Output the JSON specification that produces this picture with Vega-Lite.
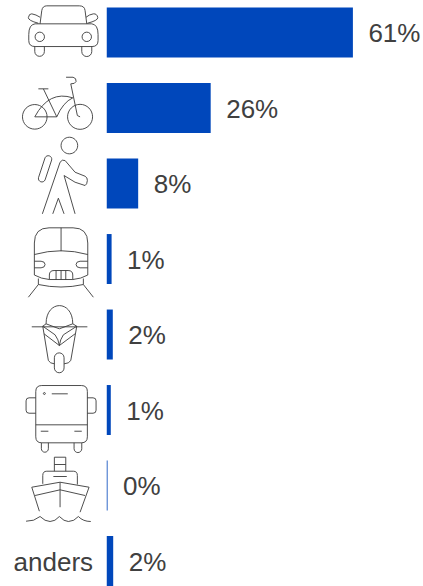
{"$schema":"https://vega.github.io/schema/vega-lite/v6.json","width":423,"height":586,"padding":0,"autosize":"none","background":"white","view":{"stroke":null},
"data":{"values":[
{"mode":"auto","value":61.1,"label":"61%"},
{"mode":"fiets","value":25.8,"label":"26%"},
{"mode":"te voet","value":7.8,"label":"8%"},
{"mode":"trein","value":1.2,"label":"1%"},
{"mode":"brommer","value":1.5,"label":"2%"},
{"mode":"bus","value":1.0,"label":"1%"},
{"mode":"boot","value":0.2,"label":"0%"},
{"mode":"anders","value":1.6,"label":"2%"}]},
"encoding":{"y":{"field":"mode","type":"nominal","sort":null,"axis":null,"scale":{"domain":["auto","fiets","te voet","trein","brommer","bus","boot","anders"],"paddingInner":0.338,"paddingOuter":0.05,"align":1}}},
"layer":[
{"mark":{"type":"bar","color":"#0047BB"},"encoding":{"x":{"field":"value","type":"quantitative","axis":null,"scale":{"domain":[-26.5,78.5],"nice":false,"zero":false}}}},
{"mark":{"type":"text","align":"left","baseline":"middle","dx":15.5,"dy":1.5,"font":"Liberation Sans","fontSize":26,"color":"#404040"},"encoding":{"x":{"field":"value","type":"quantitative"},"text":{"field":"label"}}},
{"transform":[{"filter":"datum.mode==='anders'"}],"mark":{"type":"text","align":"right","baseline":"middle","dy":1.5,"font":"Liberation Sans","fontSize":26,"color":"#404040"},"encoding":{"x":{"datum":-3.4},"text":{"field":"mode"}}},
{"transform":[{"filter":"datum.mode!=='anders'"}],"mark":{"type":"point","filled":false,"size":4,"stroke":"#3a3a3a","strokeWidth":0.9,"opacity":1},"encoding":{"x":{"datum":-11.34},"shape":{"field":"mode","type":"nominal","legend":null,"scale":{"domain":["auto","fiets","te voet","trein","brommer","bus","boot"],"range":[
"M-21 -8.7L-19.3 -22Q-18.5 -26.7 -14.3 -26.7L18.3 -26.7Q23.5 -26.7 24 -22L25.7 -8.7M-26 -8.7L30.7 -8.7Q37 -8 37 2L37 8Q37 14 31 14L-26 14Q-32.3 14 -32.3 8L-32.3 2Q-32.3 -8 -26 -8.7ZM-26 4.3a4.7 4.7 0 1 0 9.4 0a4.7 4.7 0 1 0 -9.4 0ZM21 4.3a4.7 4.7 0 1 0 9.4 0a4.7 4.7 0 1 0 -9.4 0ZM-26.3 14L-26.3 19a4.8 4.8 0 0 0 9.6 0L-16.7 14M20.7 14L20.7 19a5 5 0 0 0 10 0L30.7 14M-22.7 -9.3Q-33 -12 -32.7 -15Q-32 -19 -29.3 -18.7Q-25 -18 -21 -15.3M26.3 -9.3Q37 -12 36.7 -15Q36 -19 32.3 -18.7Q28 -18 25 -15.3",
"M-38.6 8.8a12.3 12.3 0 1 0 24.6 0a12.3 12.3 0 1 0 -24.6 0ZM6.5 8.8a12.5 12.5 0 1 0 25 0a12.5 12.5 0 1 0 -25 0ZM-26.3 8.8L-4.3 8.8Q2 -5.8 11.7 -10.2Q-12 -18 -26.3 8.8M-17.7 -19.2L-4.3 8.8M-22.7 -19.2L-12.7 -19.2M9.7 -24.2L16.3 7.5L19 8.8M5 -30.8L12 -30.8Q15.5 -30 15 -26.5Q14 -24 9.7 -24.2",
"M0 -38a8.3 8.3 0 1 0 16.6 0a8.3 8.3 0 1 0 -16.6 0ZM-9.4 -23.6L-16 -3.6A3.5 3.5 0 0 1 -22.6 -5.8L-16 -25.8A3.5 3.5 0 0 1 -9.4 -23.6ZM-18.7 30.3L-1 -21.3Q1 -24.5 4 -23L14 -11.3L24 -7.3Q26.5 -6 26.3 -3Q26 1 24 2L14 -1.3L3 -8L14 30.3M-8.3 30.3L-2.7 14.7L3 30.3",
"M-26.7 16L-26.7 -16Q-26.7 -31.2 -12 -31.2L12 -31.2Q26.7 -31.2 26.7 -16L26.7 16M0 -31.2L0 -7.8M-26.7 -4.5Q0 -12 26.7 -4.5M-26.7 2.2L-20 2.2Q-16 2.5 -16 5.5Q-16 8.5 -20 8.8L-26.7 8.8M26.7 2.2L19 2.2Q15 2.5 15 5.5Q15 8.5 19 8.8L26.7 8.8M-26.7 16Q-20 19.8 -11.7 20.5L11.7 20.5Q20 19.8 26.7 16M-11.7 20.5L-11.7 16Q-11.7 11.5 -7 11.5L7 11.5Q11.7 11.5 11.7 16L11.7 20.5M-5 11.5L-5 20.5M0 11.5L0 20.5M4.7 11.5L4.7 20.5M-22.7 19.5L-22.7 25.5Q0 30.5 22.3 25.5L22.3 19.5M-22.7 25.5L-32.7 38.2M22.3 25.5L32.3 38.2",
"M-15 -10.7C-15 -35 11.7 -35 11.7 -10.7M-29.3 -7.7L26.3 -7.7M-18.3 -8.3L-15 -10.7L-1.7 -5.7L11.7 -10.7L15.7 -8.3M-18.3 -8.3L-6 0.3Q-2.5 5 -1.7 11Q-1 5 2.3 0.3L15.7 -8.3M-17 -0.7L-1.7 11L14 -0.7M-18.3 -8.3L-12.7 26Q-11 29 -6.7 29.3M15.7 -8.3L9.7 26Q8 29 3 29.3M-6.7 23.2A4.85 4.85 0 0 1 3 23.2L3 33.4A4.85 4.85 0 0 1 -6.7 33.4Z",
"M-19.3 -24.5L20.3 -24.5Q26.3 -24.5 26.3 -18.5L26.3 26.8Q26.3 32.8 20.3 32.8L-19.3 32.8Q-25.3 32.8 -25.3 26.8L-25.3 -18.5Q-25.3 -24.5 -19.3 -24.5ZM-25.3 14.8L26.3 14.8M-25.3 -12.2L-32 -12.2Q-35 -12.2 -35 -9.2L-35 0.2Q-35 3.2 -32 3.2L-25.3 3.2M26.3 -12.2L32 -12.2Q35 -12.2 35 -9.2L35 0.2Q35 3.2 32 3.2L26.3 3.2M-17.7 -16.5a1 1 0 1 0 2 0a1 1 0 1 0 -2 0ZM-9.3 -16.2L6.7 -16.2M-20.3 21.2L-12.7 21.2M13.3 21.2L20.7 21.2M-19.7 32.8L-19.7 38.7A3.5 3.5 0 0 0 -12.7 38.7L-12.7 32.8M13 32.8L13 38.7A3.85 3.85 0 0 0 20.7 38.7L20.7 32.8",
"M-6.7 -14.3L-6.7 -28.3L4.7 -28.3L4.7 -14.3M-6.7 -21L4.7 -21M-18.3 -1.7L-18.3 -10Q-18.3 -14.3 -14.3 -14.3L12.3 -14.3Q16.3 -14.3 16.3 -10L16.3 -1M-7.7 -9L5.7 -9M-29.3 1.7L-1 -3.3L28 1.7M-26 10L-1 4.3L24 10M-29.3 1.7L-21.7 25.7M28 1.7L19 26.7M-1 -3.3L-1 21.7M-35 35.7Q-27 36 -21 31Q-16 36 -11 36Q-6 36 -1.7 31Q3 36 7.3 36Q13 36 17.3 31Q22 36 29.7 36"
]}}}}
]}
